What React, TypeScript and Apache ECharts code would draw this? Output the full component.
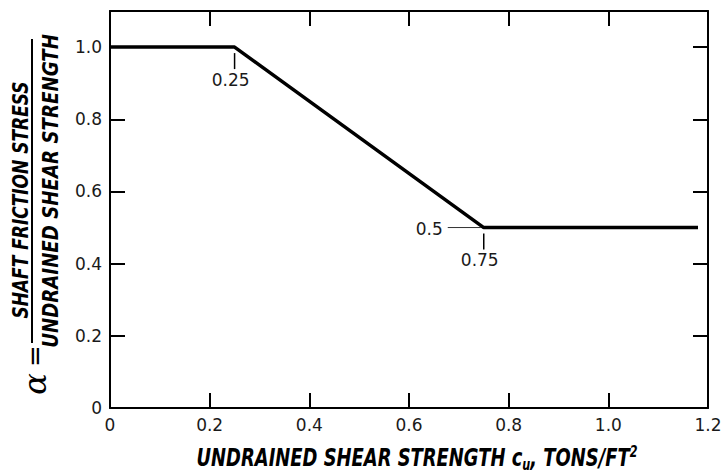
import React, { useEffect, useRef } from "react";
import * as echarts from "echarts";

// Design line for the adhesion factor: alpha against undrained shear strength
const shearStrength = [0, 0.25, 0.75, 1.18]; // c_u, tons/ft^2
const alphaValues = [1.0, 1.0, 0.5, 0.5];

// Axis extents and tick spacing
const xMin = 0;
const xMax = 1.2;
const xStep = 0.2;
const yMin = 0;
const yMax = 1.1;
const yStep = 0.2;

// Break-point callouts (index into the arrays above)
const breakCallouts = [
  { index: 1, text: "0.25" },
  { index: 2, text: "0.75" },
];
const plateauCallout = { index: 2, text: "0.5" };

const numFont = "'DejaVu Sans', sans-serif";
const titleFont = "'DejaVu Sans Condensed', 'DejaVu Sans', sans-serif";
const numColor = "#1a1a1a";

const fmt = (v: number) => (v === 0 ? "0" : v.toFixed(1));

const axisLine = { show: true, onZero: false, lineStyle: { color: "#000", width: 2 } };
const axisTick = { show: true, inside: true, length: 15, lineStyle: { color: "#000", width: 2 } };

export default function App() {
  const ref = useRef<HTMLDivElement>(null);

  useEffect(() => {
    if (!ref.current) return;
    const chart = echarts.init(ref.current, undefined, { renderer: "svg" });

    chart.setOption({
      animation: false,
      backgroundColor: "#fff",
      grid: { left: 110, right: 19, top: 11, bottom: 68, containLabel: false },
      xAxis: [
        {
          type: "value",
          position: "bottom",
          min: xMin,
          max: xMax,
          interval: xStep,
          axisLine,
          axisTick,
          splitLine: { show: false },
          axisLabel: { fontFamily: numFont, fontSize: 17, color: numColor, margin: 8, formatter: fmt },
        },
        {
          type: "value",
          position: "top",
          min: xMin,
          max: xMax,
          interval: xStep,
          axisLine,
          axisTick,
          splitLine: { show: false },
          axisLabel: { show: false },
        },
      ],
      yAxis: [
        {
          type: "value",
          position: "left",
          min: yMin,
          max: yMax,
          interval: yStep,
          axisLine,
          axisTick,
          splitLine: { show: false },
          axisLabel: {
            fontFamily: numFont,
            fontSize: 17,
            color: numColor,
            margin: 8,
            showMaxLabel: false,
            formatter: fmt,
          },
        },
        {
          type: "value",
          position: "right",
          min: yMin,
          max: yMax,
          interval: yStep,
          axisLine,
          axisTick,
          splitLine: { show: false },
          axisLabel: { show: false },
        },
      ],
      series: [
        {
          type: "line",
          xAxisIndex: 0,
          yAxisIndex: 0,
          data: shearStrength.map((x, i) => [x, alphaValues[i]]),
          symbol: "none",
          lineStyle: { color: "#000", width: 3.5 },
          z: 5,
        },
      ],
    });

    const toPx = (i: number) =>
      chart.convertToPixel({ xAxisIndex: 0, yAxisIndex: 0 }, [shearStrength[i], alphaValues[i]]) as number[];

    const textEl = (
      x: number,
      y: number,
      text: string,
      font: string,
      align: string,
      vAlign: string,
      rotation = 0,
      scaleX = 1,
      extra: any = {}
    ) => ({
      type: "text",
      x,
      y,
      rotation,
      scaleX,
      silent: true,
      style: {
        text,
        font,
        fill: "#000",
        align,
        verticalAlign: vAlign,
        textAlign: align,
        textVerticalAlign: vAlign,
        ...extra,
      },
    });

    const graphics: any[] = [];

    breakCallouts.forEach((c) => {
      const p = toPx(c.index);
      graphics.push({
        type: "line",
        silent: true,
        shape: { x1: p[0], y1: p[1] + 6, x2: p[0], y2: p[1] + 22 },
        style: { stroke: "#000", lineWidth: 1.5 },
      });
      graphics.push(
        textEl(p[0] - 4, p[1] + 24, c.text, `17px ${numFont}`, "center", "top", 0, 1, { fill: numColor })
      );
    });

    {
      const p = toPx(plateauCallout.index);
      graphics.push({
        type: "line",
        silent: true,
        shape: { x1: p[0] - 36, y1: p[1], x2: p[0] - 3, y2: p[1] },
        style: { stroke: "#333", lineWidth: 1 },
      });
      graphics.push(
        textEl(p[0] - 41, p[1] + 1, plateauCallout.text, `17px ${numFont}`, "right", "middle", 0, 1, {
          fill: numColor,
        })
      );
    }

    // Horizontal axis title, condensed heavy italic
    const heavy = { fontFamily: titleFont, fontWeight: "bold", fontStyle: "italic", fill: "#000" };
    graphics.push(
      textEl(
        417,
        458,
        "{t|UNDRAINED SHEAR STRENGTH c}{sub|u}{t|, TONS/FT}{sup|2}",
        `italic bold 24px ${titleFont}`,
        "center",
        "middle",
        0,
        0.83,
        {
          rich: {
            t: { ...heavy, fontSize: 24 },
            sub: { ...heavy, fontSize: 15, padding: [13, 0, 0, 0] },
            sup: { ...heavy, fontSize: 15, padding: [0, 0, 13, 0] },
          },
        }
      )
    );

    // Vertical axis title: alpha = shaft friction stress / undrained shear strength
    const yTitleFont = `italic bold 22px ${titleFont}`;
    graphics.push(textEl(20, 200, "SHAFT FRICTION STRESS", yTitleFont, "center", "middle", Math.PI / 2, 0.86));
    graphics.push({
      type: "line",
      silent: true,
      shape: { x1: 32, y1: 39, x2: 32, y2: 343 },
      style: { stroke: "#000", lineWidth: 2 },
    });
    graphics.push(textEl(50, 191, "UNDRAINED SHEAR STRENGTH", yTitleFont, "center", "middle", Math.PI / 2, 0.92));
    graphics.push(textEl(35, 384, "α", `italic 32px 'DejaVu Serif', serif`, "center", "middle", Math.PI / 2));
    graphics.push(textEl(35, 356, "=", `26px 'DejaVu Sans', sans-serif`, "center", "middle", Math.PI / 2));

    chart.setOption({ graphic: graphics });

    return () => chart.dispose();
  }, []);

  return (
    <div
      ref={ref}
      style={{ position: "fixed", left: 0, top: 0, width: 727, height: 476, background: "#fff" }}
    />
  );
}
